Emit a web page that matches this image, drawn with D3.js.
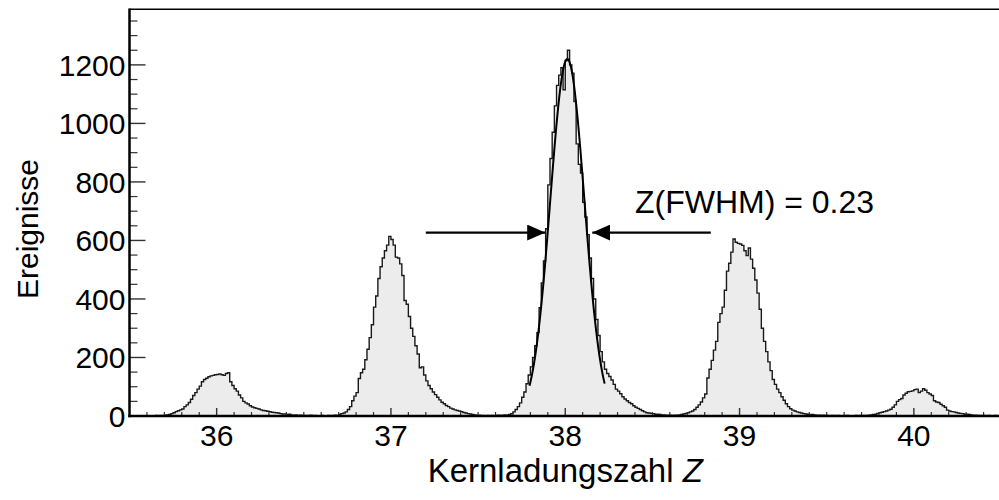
<!DOCTYPE html>
<html>
<head>
<meta charset="utf-8">
<script src="https://cdn.jsdelivr.net/npm/d3@7"></script>
<style>
  html, body { margin: 0; padding: 0; background: #fff; }
  svg { display: block; }
  text { font-family: "Liberation Sans", Arial, Helvetica, sans-serif; fill: #000; }
</style>
</head>
<body>
<svg id="chart" width="999" height="500"></svg>
<script>
// Histogram of reconstructed nuclear charge Z (bins of 0.0125 from 35.5)
const binStart = 35.5;
const binWidth = 0.0125;
// counts, one row per 0.1 in Z
const counts = [
  0, 0, 1, 0, 0, 0, 1, 0,                 // 35.5
  1, 0, 1, 1, 2, 1, 2, 2,                 // 35.6
  3, 4, 5, 8, 11, 15, 18, 21,             // 35.7
  24, 32, 38, 46, 57, 70, 80, 92,         // 35.8
  102, 117, 125, 129, 134, 137, 139, 141, // 35.9
  142, 144, 141, 139, 145, 148, 117, 104, // 36.0
  93, 85, 72, 62, 50, 45, 41, 35,         // 36.1
  31, 28, 26, 24, 21, 19, 18, 16,         // 36.2
  15, 13, 12, 11, 10, 8, 7, 7,            // 36.3
  5, 6, 4, 3, 4, 2, 3, 2,                 // 36.4
  2, 1, 2, 3, 1, 2, 0, 1,                 // 36.5
  2, 1, 0, 2, 1, 2, 3, 2,                 // 36.6
  5, 8, 10, 14, 22, 32, 52, 68,           // 36.7
  80, 128, 148, 160, 192, 228, 268, 312,  // 36.8
  372, 410, 470, 510, 540, 565, 584, 614, // 36.9
  603, 584, 543, 540, 520, 480, 395, 382, // 37.0
  340, 300, 272, 240, 212, 165, 168, 140, // 37.1
  120, 104, 93, 82, 73, 64, 55, 47,       // 37.2
  42, 36, 32, 27, 24, 21, 19, 17,         // 37.3
  15, 12, 10, 8, 7, 5, 4, 3,              // 37.4
  3, 2, 2, 1, 2, 1, 2, 1,                 // 37.5
  2, 3, 2, 3, 4, 3, 5, 8,                 // 37.6
  14, 22, 32, 45, 64, 82, 110, 140,       // 37.7
  168, 200, 240, 285, 370, 455, 530, 640, // 37.8
  790, 880, 970, 1060, 1130, 1165, 1190, 1115, // 37.9
  1215, 1250, 1200, 1172, 1075, 930, 860, 830, // 38.0
  730, 680, 620, 540, 470, 400, 330, 275, // 38.1
  220, 185, 160, 145, 135, 123, 108, 92,  // 38.2
  85, 76, 66, 58, 52, 46, 42, 35,         // 38.3
  30, 26, 22, 18, 14, 11, 10, 9,          // 38.4
  8, 6, 6, 5, 4, 4, 3, 3,                 // 38.5
  3, 2, 3, 3, 4, 5, 7, 9,                 // 38.6
  11, 14, 17, 22, 30, 38, 48, 62,         // 38.7
  75, 130, 160, 190, 225, 255, 320, 350,  // 38.8
  372, 430, 495, 522, 560, 605, 594, 590, // 38.9
  588, 583, 565, 548, 574, 536, 505, 465, // 39.0
  420, 365, 300, 255, 220, 185, 155, 125, // 39.1
  108, 92, 80, 66, 54, 42, 32, 25,        // 39.2
  20, 17, 14, 12, 10, 8, 7, 6,            // 39.3
  5, 5, 4, 3, 3, 2, 3, 2,                 // 39.4
  2, 1, 2, 2, 1, 2, 1, 1,                 // 39.5
  1, 2, 1, 0, 1, 2, 1, 2,                 // 39.6
  1, 2, 2, 3, 4, 5, 6, 9,                 // 39.7
  11, 13, 15, 17, 20, 23, 30, 38,         // 39.8
  50, 56, 60, 72, 78, 83, 84, 86,         // 39.9
  90, 92, 80, 85, 93, 88, 80, 75,         // 40.0
  70, 52, 48, 46, 40, 35, 30, 20,         // 40.1
  17, 15, 14, 12, 10, 9, 8, 6,            // 40.2
  6, 5, 4, 3, 3, 2, 2, 2,                 // 40.3
  2, 1, 2, 1, 1, 2, 1, 1                  // 40.4
];

// Gaussian fit of the Z = 38 peak
const fitMean = 38.012;
const fitFWHM = 0.23;
const fitAmplitude = 1220;
const fitRange = [37.795, 38.226];

// FWHM marker arrows (Z positions and height in counts)
const arrowLeft = [37.2, 37.885];
const arrowRight = [38.835, 38.155];
const arrowLevel = 627;
const fwhmLabel = "Z(FWHM) = 0.23";

const xDomain = [35.5, 40.5];
const yDomain = [0, 1390];
const xMajorTicks = [36, 37, 38, 39, 40];
const yMajorTicks = [0, 200, 400, 600, 800, 1000, 1200];

const svg = d3.select("#chart");
const plot = { left: 129.5, right: 1001, top: 9.3, bottom: 416 };

const x = d3.scaleLinear().domain(xDomain).range([plot.left, plot.right]);
const y = d3.scaleLinear().domain(yDomain).range([plot.bottom, plot.top]);

// histogram outline as a step path
const bins = counts.map((c, i) => ({ x0: binStart + i * binWidth, x1: binStart + (i + 1) * binWidth, c }));
let pathD = `M${x(bins[0].x0)},${y(0)}`;
bins.forEach(b => { pathD += `L${x(b.x0)},${y(b.c)}L${x(b.x1)},${y(b.c)}`; });
pathD += `L${x(bins[bins.length - 1].x1)},${y(0)}`;

const defs = svg.append("defs");
defs.append("clipPath").attr("id", "plotclip")
  .append("rect").attr("x", plot.left).attr("y", plot.top)
  .attr("width", plot.right - plot.left).attr("height", plot.bottom - plot.top);

const g = svg.append("g").attr("clip-path", "url(#plotclip)");
g.append("path").attr("d", pathD + "Z").attr("fill", "#ececec").attr("stroke", "none");
g.append("path").attr("d", pathD).attr("fill", "none").attr("stroke", "#1a1a1a")
  .attr("stroke-width", 1.4).attr("stroke-linejoin", "miter");

// fit curve
const sigma = fitFWHM / (2 * Math.sqrt(2 * Math.log(2)));
const fitPts = d3.range(0, 201).map(i => {
  const z = fitRange[0] + (fitRange[1] - fitRange[0]) * i / 200;
  return [z, fitAmplitude * Math.exp(-0.5 * ((z - fitMean) / sigma) ** 2)];
});
g.append("path")
  .attr("d", d3.line().x(d => x(d[0])).y(d => y(d[1]))(fitPts))
  .attr("fill", "none").attr("stroke", "#000").attr("stroke-width", 2);

// axes
const xMinor = d3.range(356, 405).map(v => v / 10).filter(v => !xMajorTicks.includes(v));
const yMinor = d3.range(0, 1391, 50).filter(v => !yMajorTicks.includes(v));

const ticks = svg.append("g").attr("stroke", "#333");
xMinor.forEach(v => ticks.append("line").attr("x1", x(v)).attr("x2", x(v))
  .attr("y1", plot.bottom).attr("y2", plot.bottom - 4).attr("stroke-width", 1.2));
xMajorTicks.forEach(v => ticks.append("line").attr("x1", x(v)).attr("x2", x(v))
  .attr("y1", plot.bottom).attr("y2", plot.bottom - 8).attr("stroke-width", 1.4));
yMinor.forEach(v => ticks.append("line").attr("x1", plot.left).attr("x2", plot.left + 8)
  .attr("y1", y(v)).attr("y2", y(v)).attr("stroke-width", 1.2));
yMajorTicks.forEach(v => ticks.append("line").attr("x1", plot.left).attr("x2", plot.left + 16)
  .attr("y1", y(v)).attr("y2", y(v)).attr("stroke-width", 1.4));

// frame
svg.append("line").attr("x1", plot.left).attr("x2", 999).attr("y1", plot.top).attr("y2", plot.top)
  .attr("stroke", "#000").attr("stroke-width", 1.5);
svg.append("line").attr("x1", plot.left).attr("x2", plot.left).attr("y1", plot.top - 0.75).attr("y2", plot.bottom + 1.2)
  .attr("stroke", "#000").attr("stroke-width", 2.5);
svg.append("line").attr("x1", plot.left - 1.2).attr("x2", 999).attr("y1", plot.bottom).attr("y2", plot.bottom)
  .attr("stroke", "#000").attr("stroke-width", 2.5);

// tick labels
yMajorTicks.forEach(v => svg.append("text").attr("x", plot.left - 4).attr("y", y(v) + 10.7)
  .attr("text-anchor", "end").attr("font-size", 30).text(v));
xMajorTicks.forEach(v => svg.append("text").attr("x", x(v)).attr("y", plot.bottom + 30)
  .attr("text-anchor", "middle").attr("font-size", 30).text(v));

// axis titles
const xt = svg.append("text").attr("x", (plot.left + plot.right) / 2).attr("y", 482)
  .attr("text-anchor", "middle").attr("font-size", 33);
xt.append("tspan").text("Kernladungszahl ");
xt.append("tspan").attr("font-style", "italic").text("Z");
svg.append("text").attr("transform", `translate(38,229) rotate(-90)`)
  .attr("text-anchor", "middle").attr("font-size", 30).text("Ereignisse");

// FWHM arrows
defs.append("marker").attr("id", "ah").attr("viewBox", "0 0 18 16")
  .attr("refX", 18).attr("refY", 8).attr("markerWidth", 18).attr("markerHeight", 16)
  .attr("markerUnits", "userSpaceOnUse").attr("orient", "auto")
  .append("path").attr("d", "M0,0L18,8L0,16Z").attr("fill", "#000");
[arrowLeft, arrowRight].forEach(a => {
  svg.append("line").attr("x1", x(a[0])).attr("x2", x(a[1]))
    .attr("y1", y(arrowLevel)).attr("y2", y(arrowLevel))
    .attr("stroke", "#000").attr("stroke-width", 2.2).attr("marker-end", "url(#ah)");
});
svg.append("text").attr("x", x(38.4)).attr("y", 213).attr("font-size", 32).text(fwhmLabel);
</script>
</body>
</html>
